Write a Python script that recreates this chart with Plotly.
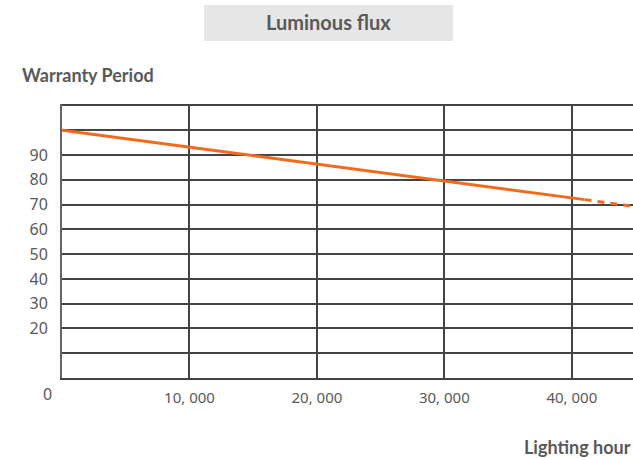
import plotly.graph_objects as go

# Data
solid_hours = [0, 41000]
solid_flux = [100, 72]
dashed_hours = [41000, 44600]
dashed_flux = [72, 69.4]

x_tick_vals = [10000, 20000, 30000, 40000]
x_tick_text = ["10, 000", "20, 000", "30, 000", "40, 000"]
y_tick_vals = [10, 20, 30, 40, 50, 60, 70, 80, 90, 100, 110]
y_tick_text = ["", "20", "30", "40", "50", "60", "70", "80", "90", "", ""]

ORANGE = "#f26a1b"
GRID = "#444444"
TXT = "#595959"

fig = go.Figure()
fig.add_trace(go.Scatter(x=solid_hours, y=solid_flux, mode="lines",
                         line=dict(color=ORANGE, width=3), showlegend=False))
fig.add_trace(go.Scatter(x=dashed_hours, y=dashed_flux, mode="lines",
                         line=dict(color=ORANGE, width=3, dash="7px,6px"), showlegend=False))

fig.update_layout(
    width=633, height=458,
    margin=dict(l=62, r=0, t=104, b=80),
    paper_bgcolor="white", plot_bgcolor="white",
    font=dict(family="Lato, Noto Sans, sans-serif", color=TXT),
    xaxis=dict(range=[0, 44800], tickvals=x_tick_vals, ticktext=x_tick_text,
               showgrid=True, gridcolor=GRID, gridwidth=2,
               showline=True, linecolor=GRID, linewidth=2,
               zeroline=False, ticks="", ticklabelstandoff=5,
               tickfont=dict(size=15, color=TXT, family="Noto Sans, sans-serif")),
    yaxis=dict(range=[0, 110.6], tickvals=y_tick_vals, ticktext=y_tick_text,
               showgrid=True, gridcolor=GRID, gridwidth=2,
               showline=True, linecolor="#666666", linewidth=2,
               zeroline=False, ticks="", ticklabelstandoff=9,
               tickfont=dict(size=16, color=TXT, family="Noto Sans, sans-serif")),
    shapes=[dict(type="rect", xref="paper", yref="paper",
                 x0=(204-62)/571, x1=(453-62)/571,
                 y0=(378-41)/274, y1=(378-5)/274,
                 fillcolor="#e6e6e6", line=dict(width=0), layer="below")],
    annotations=[
        dict(text="<b>Luminous flux</b>", xref="paper", yref="paper",
             x=(328-62)/571, y=(378-22)/274, showarrow=False,
             font=dict(size=20, color=TXT), xanchor="center", yanchor="middle"),
        dict(text="<b>Warranty Period</b>", xref="paper", yref="paper",
             x=(20-62)/571, y=(378-75)/274, showarrow=False,
             font=dict(size=18, color=TXT), xanchor="left", yanchor="middle"),
        dict(text="<b>Lighting hour</b>", xref="paper", yref="paper",
             x=1, y=(378-447)/274, showarrow=False,
             font=dict(size=18, color=TXT), xanchor="right", yanchor="middle"),
        dict(text="0", xref="paper", yref="paper",
             x=(47-62)/571, y=(378-394)/274, showarrow=False,
             font=dict(size=16, color=TXT, family="Noto Sans, sans-serif"),
             xanchor="center", yanchor="middle"),
    ],
)

fig.write_html("out.html", config={"displayModeBar": False},
               post_script="document.body.style.margin='0';")
